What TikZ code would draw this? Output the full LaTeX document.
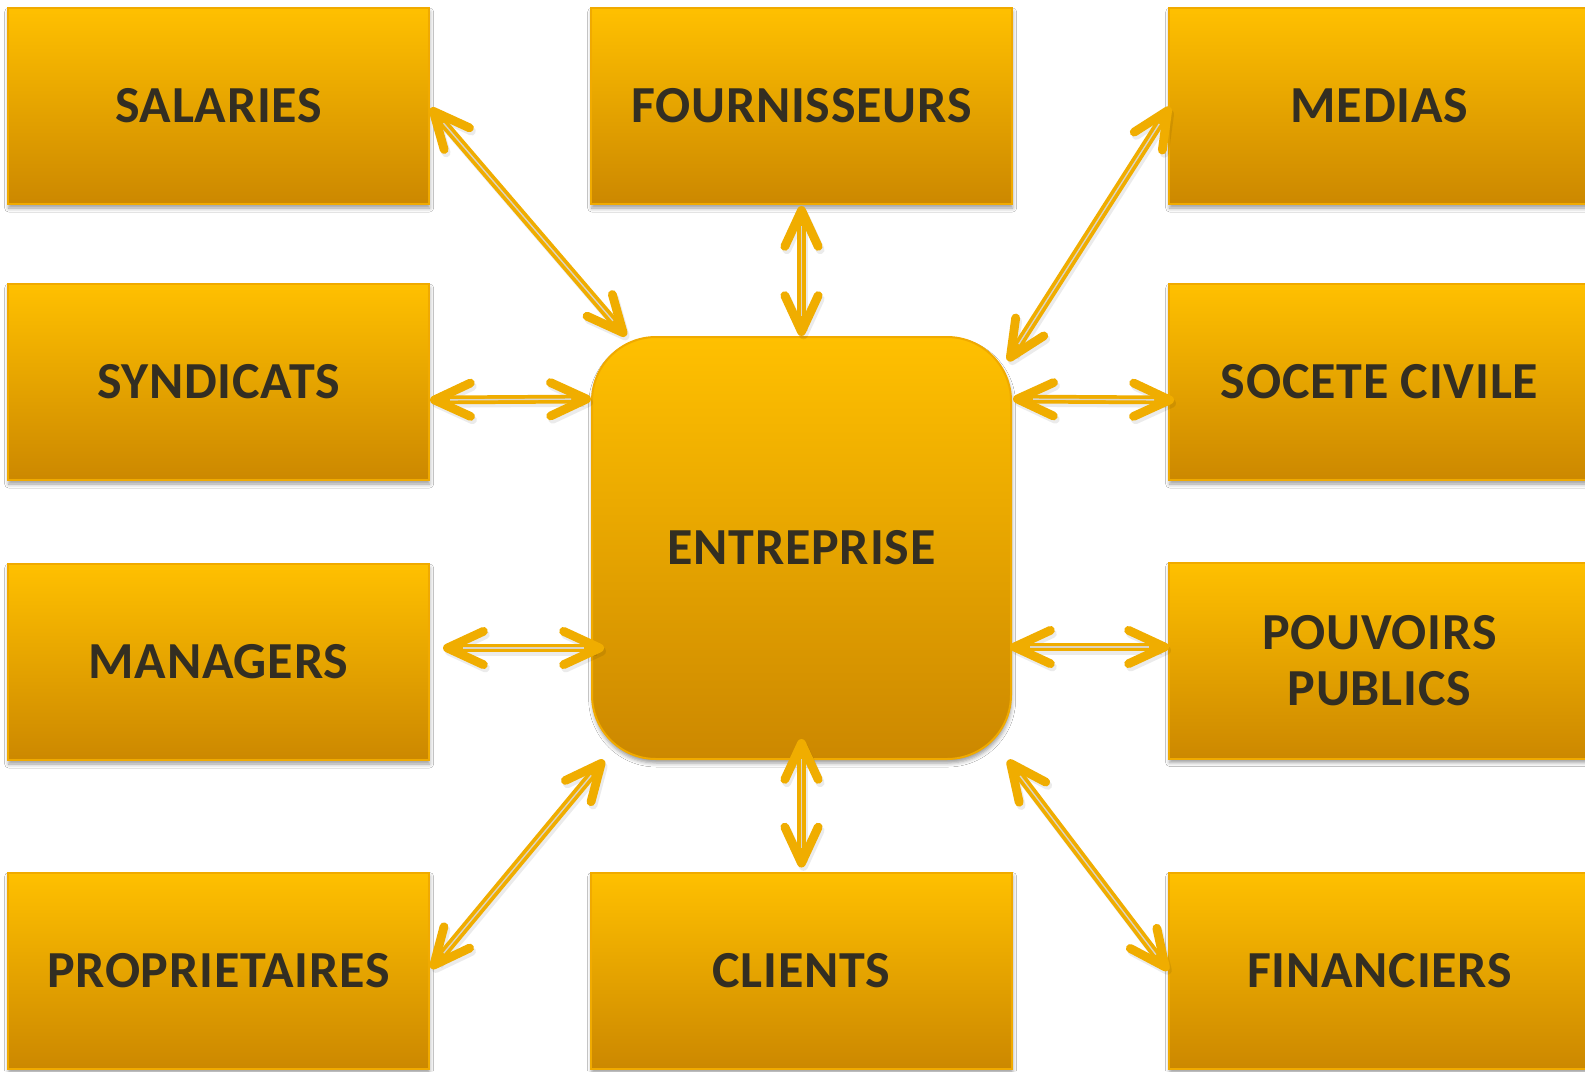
\documentclass[tikz,border=0pt]{standalone}
\usepackage{fontspec}
\setmainfont{Carlito}[LetterSpace=1.5]
\usetikzlibrary{arrows.meta,shadows.blur,calc}
\definecolor{boxtop}{HTML}{FFC000}
\definecolor{boxbot}{HTML}{CC8800}
\definecolor{boxline}{HTML}{F0AA00}
\definecolor{txt}{HTML}{332E22}
\definecolor{arr}{HTML}{F0AD00}
\definecolor{arrmid}{HTML}{DCD4C4}
\tikzset{
  box/.style={draw=boxline, line width=1.5pt, top color=boxtop, bottom color=boxbot,
    minimum width=315.75pt, minimum height=147pt, inner sep=0pt,
    font=\fontsize{39}{41.7}\selectfont\bfseries, text=txt, align=center,
    blur shadow={shadow xshift=0.5pt, shadow yshift=-3pt, shadow blur radius=3pt, shadow opacity=40}},
  centerbox/.style={box, minimum width=314.25pt, minimum height=316.5pt, rounded corners=48pt},
  barb/.tip={Straight Barb[length=27pt,width=25pt,round]},
  link/.style={draw=arr, line width=6.6pt, {barb}-{barb}},
  linkshadow/.style={draw=black, opacity=0.08, line width=6.6pt, {barb}-{barb},
    transform canvas={shift={(1.5pt,-2.5pt)}}},
  linkmid/.style={draw=arrmid, line width=1pt, shorten >=15pt, shorten <=15pt}
}
\newcommand\biarrow[2]{%
  \draw[linkshadow] #1 -- #2;
  \draw[link] #1 -- #2;
  \draw[linkmid] #1 -- #2;}
\begin{document}
\begin{tikzpicture}[x=0.75pt,y=-0.75pt]
\useasboundingbox[fill=white] (0,0) rectangle (1585,1071);
% left column
\node[box] (sal) at (218.5,106) {SALARIES};
\node[box] (syn) at (218.5,382) {SYNDICATS};
\node[box] (man) at (218.5,662) {MANAGERS};
\node[box] (pro) at (218.5,970.5) {PROPRIETAIRES};
% middle column
\node[box] (fou) at (801.5,106) {FOURNISSEURS};
\node[centerbox] (ent) at (801.5,548) {ENTREPRISE};
\node[box] (cli) at (801.5,970.5) {CLIENTS};
% right column
\node[box] (med) at (1379.5,106) {MEDIAS};
\node[box] (soc) at (1379.5,382) {SOCETE CIVILE};
\node[box] (pou) at (1379.5,660.5) {POUVOIRS\\PUBLICS};
\node[box] (fin) at (1379.5,970.5) {FINANCIERS};
% connectors
\biarrow{($(sal.east)+(0.5,2)$)}{($(ent.north west)+(35,0)$)}
\biarrow{($(fou.south)+(0,1)$)}{(ent.north)}
\biarrow{($(med.west)+(2,1)$)}{($(ent.north east)+(-4,25)$)}
\biarrow{($(syn.east)+(0,18)$)}{($(ent.north west)+(0,63)$)}
\biarrow{($(ent.north east)+(1,63)$)}{($(soc.west)+(6,18)$)}
\biarrow{($(man.east)+(13,-14)$)}{($(ent.west)+(13,100)$)}
\biarrow{($(ent.east)+(-2,99)$)}{($(pou.west)+(1,-13.5)$)}
\biarrow{($(pro.east)+(1,-2)$)}{($(ent.south west)+(13,0)$)}
\biarrow{($(ent.south)+(0,-21)$)}{($(cli.north)+(0,-4)$)}
\biarrow{($(ent.south east)+(-4,0)$)}{(fin.west)}
\end{tikzpicture}
\end{document}
